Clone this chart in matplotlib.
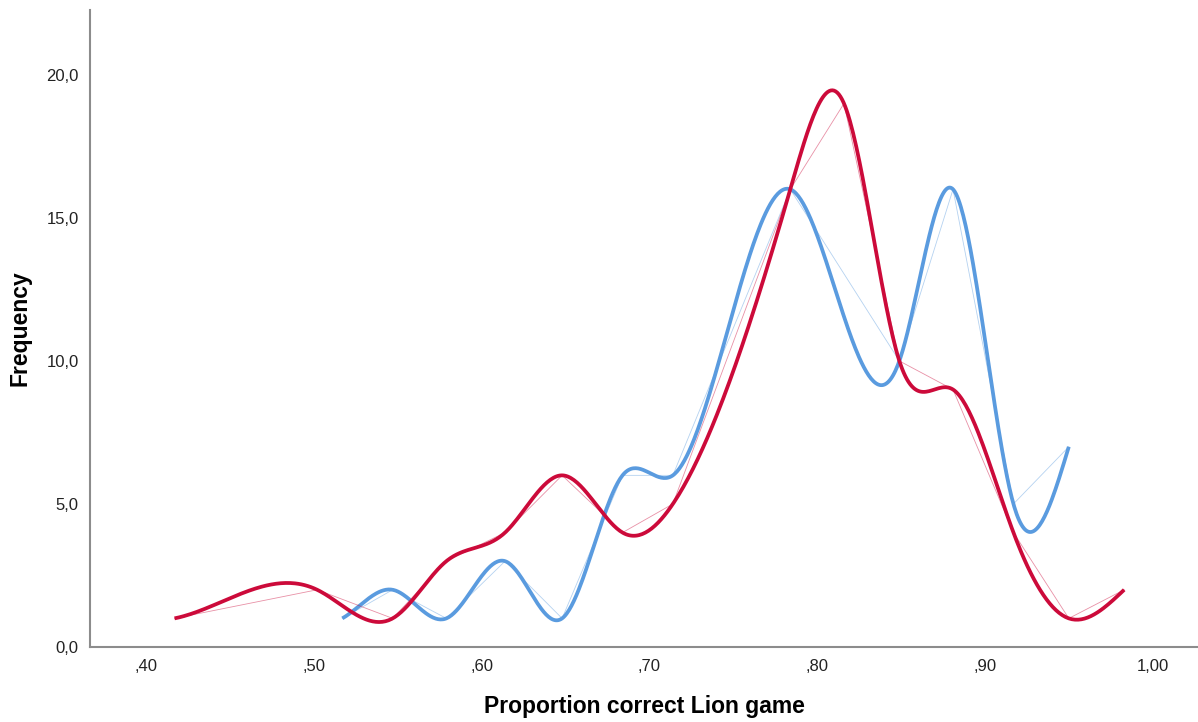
import numpy as np
import matplotlib
matplotlib.use("Agg")
import matplotlib.pyplot as plt

# proportion correct values and frequencies
blue_x = [0.517, 0.547, 0.579, 0.614, 0.648, 0.684, 0.714, 0.784, 0.849, 0.881, 0.917, 0.950]
blue_y = [1, 2, 1, 3, 1, 6, 6, 16, 10, 16, 5, 7]

red_x = [0.417, 0.502, 0.547, 0.579, 0.614, 0.648, 0.684, 0.714, 0.784, 0.816, 0.849, 0.881, 0.917, 0.950, 0.983]
red_y = [1, 2, 1, 3, 4, 6, 4, 5, 16, 19, 10, 9, 4, 1, 2]

x_ticks = [0.40, 0.50, 0.60, 0.70, 0.80, 0.90, 1.00]
x_tick_labels = [",40", ",50", ",60", ",70", ",80", ",90", "1,00"]
y_ticks = [0, 5, 10, 15, 20]
y_tick_labels = ["0,0", "5,0", "10,0", "15,0", "20,0"]

BLUE = "#5A9BDF"
RED = "#CC0A3A"


def spline(x, y, points=600):
    # cubic spline: start slope fixed to the first secant, natural at the end
    x = np.asarray(x, dtype=float)
    y = np.asarray(y, dtype=float)
    n = len(x)
    h = np.diff(x)
    s = np.diff(y) / h
    a = np.zeros((n, n))
    b = np.zeros(n)
    a[0, 0], a[0, 1] = 2 * h[0], h[0]
    a[-1, -1] = 1
    for i in range(1, n - 1):
        a[i, i - 1] = h[i - 1]
        a[i, i] = 2 * (h[i - 1] + h[i])
        a[i, i + 1] = h[i]
        b[i] = 6 * (s[i] - s[i - 1])
    m = np.linalg.solve(a, b)
    xs = np.linspace(x[0], x[-1], points)
    idx = np.clip(np.searchsorted(x, xs) - 1, 0, n - 2)
    x0, x1 = x[idx], x[idx + 1]
    hh = x1 - x0
    t0, t1 = x1 - xs, xs - x0
    ys = (m[idx] * t0 ** 3 + m[idx + 1] * t1 ** 3) / (6 * hh) \
        + (y[idx] / hh - m[idx] * hh / 6) * t0 \
        + (y[idx + 1] / hh - m[idx + 1] * hh / 6) * t1
    return xs, ys


plt.rcParams["font.family"] = ["Liberation Sans", "DejaVu Sans"]

fig = plt.figure(figsize=(11.98, 7.22), dpi=100)
ax = fig.add_axes([0.0751, 0.1039, 0.9249, 0.8823])

for xs, ys, color in [(blue_x, blue_y, BLUE), (red_x, red_y, RED)]:
    ax.plot(xs, ys, color=color, linewidth=0.6, alpha=0.45)
    sx, sy = spline(xs, ys)
    ax.plot(sx, sy, color=color, linewidth=2.7, solid_capstyle="butt")

ax.set_xlim(0.3666, 1.027)
ax.set_ylim(0, 22.27)
ax.set_xticks(x_ticks)
ax.set_xticklabels(x_tick_labels)
ax.set_yticks(y_ticks)
ax.set_yticklabels(y_tick_labels)
ax.tick_params(axis="both", length=0, labelsize=12, colors="#222222")
ax.tick_params(axis="x", pad=9)
ax.tick_params(axis="y", pad=8)

for side in ["top", "right"]:
    ax.spines[side].set_visible(False)
for side in ["left", "bottom"]:
    ax.spines[side].set_color("#8c8c8c")
    ax.spines[side].set_linewidth(1.5)

ax.set_xlabel("Proportion correct Lion game", fontsize=16.5, fontweight="bold", labelpad=15)
ax.set_ylabel("Frequency", fontsize=16.5, fontweight="bold", labelpad=11)

fig.savefig("out.png", dpi=100)
